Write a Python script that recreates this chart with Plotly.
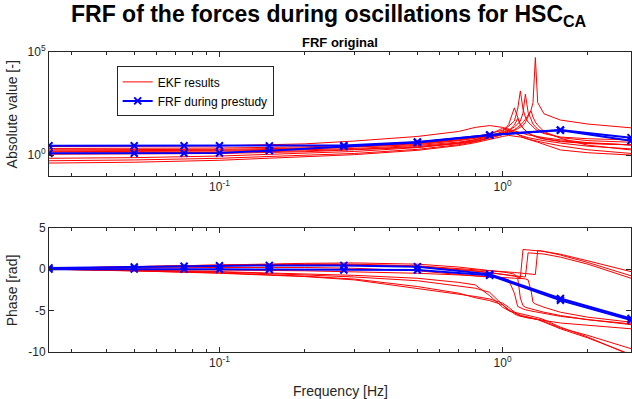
import numpy as np
import plotly.graph_objects as go

# ---------------------------------------------------------------- data
# frequency grid of the EKF identification results [Hz]
freq_ekf = [0.025, 0.05, 0.1, 0.2, 0.3, 0.5, 0.7, 0.8, 0.9, 1.0, 1.05, 1.1, 1.13,
            1.155, 1.18, 1.203, 1.23, 1.26, 1.28, 1.305, 1.33, 1.4, 1.6, 2.0, 2.84]

# absolute value of the FRF for each EKF run
ekf1_abs = [2.1, 2.1, 2.2, 2.5, 2.9, 3.8, 5.5, 6.8, 8.5, 11, 13, 16, 19, 22, 27, 38, 70, 150, 350, 54000, 350, 100, 50, 32, 21]
ekf2_abs = [1.8, 1.8, 1.9, 2.2, 2.6, 3.5, 5.5, 7.5, 11, 16, 25, 45, 170, 1300, 170, 70, 40, 28, 22, 18, 15, 11, 7.5, 6.2, 5.4]
ekf3_abs = [1.6, 1.6, 1.7, 2.0, 2.4, 3.2, 5.0, 6.5, 9.0, 12, 16, 23, 32, 45, 110, 900, 120, 50, 32, 24, 18, 12, 7.0, 5.0, 4.2]
ekf4_abs = [1.46, 1.47, 1.55, 1.8, 2.1, 2.9, 4.3, 5.6, 8.0, 14, 30, 195, 60, 30, 20, 15, 12, 9.5, 8.5, 7.5, 7.0, 6.0, 4.5, 3.6, 3.1]
ekf5_abs = [1.25, 1.27, 1.35, 1.6, 1.9, 2.6, 3.9, 5.0, 7.0, 10, 13, 17, 22, 28, 38, 55, 85, 140, 70, 40, 28, 14, 6.5, 3.0, 1.77]
ekf6_abs = [2.6, 2.6, 2.8, 3.5, 4.8, 8.0, 14, 22, 27, 22, 18, 14, 12.5, 11.5, 10.5, 10, 9.5, 9.0, 8.6, 8.3, 8.0, 7.0, 5.5, 4.0, 3.1]
ekf7_abs = [0.70, 0.75, 0.9, 1.2, 1.5, 2.3, 3.8, 5.5, 10, 20, 16, 12, 10, 9.0, 8.0, 7.5, 7.0, 6.5, 6.2, 6.0, 5.8, 5.0, 3.8, 2.7, 2.0]
ekf8_abs = [0.53, 0.58, 0.7, 0.95, 1.2, 1.9, 3.2, 4.5, 7.0, 13, 18, 13, 10, 8.5, 7.5, 6.5, 6.0, 5.5, 5.2, 5.0, 4.8, 4.0, 2.8, 1.8, 1.2]
ekf9_abs = [0.41, 0.45, 0.56, 0.8, 1.05, 1.7, 2.9, 4.0, 6.0, 8.0, 9.0, 8.5, 8.0, 7.5, 7.0, 6.5, 6.0, 5.5, 5.0, 4.6, 4.2, 3.3, 1.77, 1.3, 1.0]
ekf10_abs = [1.1, 1.12, 1.2, 1.45, 1.75, 2.4, 3.6, 4.6, 6.5, 10, 15, 28, 60, 30, 20, 15, 12, 10, 9.0, 8.2, 7.5, 6.2, 4.8, 3.8, 3.1]

# phase of the FRF for each EKF run [rad]
ekf1_phase = [0.1, 0.3, 0.5, 0.6, 0.6, 0.4, 0.1, -0.05, -0.2, -0.3, -0.35, -0.4, -0.45, -0.5, -0.52, -0.55, -0.58, -0.6, -0.63, -0.65, 2.25, 2.15, 1.8, 1.0, -0.3]
ekf2_phase = [0.0, 0.2, 0.4, 0.5, 0.5, 0.3, 0.0, -0.2, -0.4, -0.6, -0.7, -0.85, -0.95, -1.05, 2.37, 2.35, 2.32, 2.3, 2.28, 2.26, 2.24, 2.15, 1.7, 0.8, -0.8]
ekf3_phase = [0.05, 0.25, 0.45, 0.55, 0.5, 0.3, -0.05, -0.25, -0.45, -0.6, -0.7, -0.75, -0.8, -0.85, -0.9, -0.95, 1.97, 1.95, 1.93, 1.92, 1.9, 1.82, 1.45, 0.6, -1.1]
ekf4_phase = [0.05, 0.15, 0.2, 0.2, 0.1, -0.2, -0.6, -0.8, -0.95, -1.1, -1.3, -2.9, -4.5, -4.7, -4.8, -4.9, -5.0, -5.05, -5.1, -5.15, -5.2, -5.35, -5.7, -6.1, -6.6]
ekf5_phase = [-0.05, -0.05, -0.1, -0.2, -0.3, -0.5, -0.7, -0.8, -0.9, -0.95, -1.0, -1.05, -1.1, -1.12, -1.15, -1.18, -1.3, -2.6, -4.0, -4.2, -4.3, -4.6, -5.2, -5.8, -6.4]
ekf6_phase = [0.0, -0.1, -0.3, -0.55, -0.75, -1.1, -1.6, -1.9, -3.2, -4.6, -5.0, -5.2, -5.3, -5.4, -5.5, -5.55, -5.6, -5.7, -5.75, -5.8, -5.85, -6.1, -7.0, -8.2, -10.4]
ekf7_phase = [0.0, -0.15, -0.35, -0.7, -0.95, -1.4, -2.0, -2.3, -2.8, -4.3, -5.0, -5.3, -5.45, -5.55, -5.65, -5.7, -5.8, -5.9, -5.95, -6.0, -6.05, -6.3, -7.1, -8.0, -9.6]
ekf8_phase = [0.0, -0.2, -0.5, -0.9, -1.3, -2.3, -3.0, -3.3, -3.6, -4.1, -4.6, -5.2, -5.5, -5.65, -5.75, -5.8, -5.85, -5.9, -5.95, -6.0, -6.05, -6.2, -6.5, -6.8, -7.2]
ekf9_phase = [0.0, -0.2, -0.45, -0.85, -1.2, -2.1, -2.9, -3.45, -3.8, -4.3, -4.9, -5.4, -5.6, -5.7, -5.8, -5.85, -5.9, -5.95, -6.0, -6.05, -6.1, -6.4, -7.2, -8.3, -10.3]
ekf10_phase = [0.1, 0.3, 0.55, 0.7, 0.75, 0.6, 0.25, 0.05, -0.15, -0.35, -0.45, -0.6, -1.0, -3.5, -4.4, -4.6, -4.7, -4.8, -4.9, -4.95, -5.0, -5.2, -5.6, -6.1, -6.7]

# FRF obtained in the prestudy
freq_pre = [0.025, 0.05, 0.075, 0.1, 0.15, 0.275, 0.5, 0.9, 1.6, 2.84]
pre1_abs = [2.86, 2.86, 2.86, 2.86, 2.8, 2.9, 4.3, 9.5, 16.6, 7.0]
pre2_abs = [1.22, 1.22, 1.22, 1.25, 1.64, 2.6, 4.1, 9.3, 16.0, 5.0]
pre1_phase = [0.15, 0.25, 0.35, 0.4, 0.45, 0.45, 0.3, -0.6, -3.55, -5.95]
pre2_phase = [0.0, 0.02, 0.0, -0.02, -0.05, -0.1, -0.1, -0.75, -3.75, -6.15]

# axis ticks
x_ticks = [0.1, 1]
x_ticktext = ["10<sup>-1</sup>", "10<sup>0</sup>"]
x_minor = [0.03, 0.04, 0.05, 0.06, 0.07, 0.08, 0.09,
           0.2, 0.3, 0.4, 0.5, 0.6, 0.7, 0.8, 0.9, 2]
abs_ticks = [1, 1e5]
abs_ticktext = ["10<sup>0</sup>", "10<sup>5</sup>"]
phase_ticks = [-10, -5, 0, 5]
phase_ticktext = ["-10", "-5", "0", "5"]

# ---------------------------------------------------------------- figure
ekf_abs = [ekf1_abs, ekf2_abs, ekf3_abs, ekf4_abs, ekf5_abs,
           ekf6_abs, ekf7_abs, ekf8_abs, ekf9_abs, ekf10_abs]
ekf_phase = [ekf1_phase, ekf2_phase, ekf3_phase, ekf4_phase, ekf5_phase,
             ekf6_phase, ekf7_phase, ekf8_phase, ekf9_phase, ekf10_phase]
pre_abs = [pre1_abs, pre2_abs]
pre_phase = [pre1_phase, pre2_phase]

FONT = "Liberation Sans, Arial, Helvetica, sans-serif"
AXC = "#262626"
RED = "#ff0000"
BLUE = "#0000ff"

fig = go.Figure()

for i, (a, p) in enumerate(zip(ekf_abs, ekf_phase)):
    fig.add_trace(go.Scatter(x=freq_ekf, y=a, mode="lines", xaxis="x", yaxis="y",
                             line=dict(color=RED, width=1), name="EKF results",
                             legendgroup="ekf", showlegend=(i == 0)))
    fig.add_trace(go.Scatter(x=freq_ekf, y=p, mode="lines", xaxis="x2", yaxis="y2",
                             line=dict(color=RED, width=1), legendgroup="ekf",
                             showlegend=False))

marker = dict(symbol="x-thin", size=7, color=BLUE, line=dict(color=BLUE, width=2))
for i, (a, p) in enumerate(zip(pre_abs, pre_phase)):
    fig.add_trace(go.Scatter(x=freq_pre, y=a, mode="lines+markers", xaxis="x", yaxis="y",
                             line=dict(color=BLUE, width=2), marker=marker,
                             name="FRF during prestudy", legendgroup="pre",
                             showlegend=(i == 0)))
    fig.add_trace(go.Scatter(x=freq_pre, y=p, mode="lines+markers", xaxis="x2", yaxis="y2",
                             line=dict(color=BLUE, width=2), marker=marker,
                             legendgroup="pre", showlegend=False))

tickfont = dict(family=FONT, size=12, color=AXC)
xr = [np.log10(0.025), np.log10(2.84)]
xcommon = dict(type="log", range=xr, showline=True, linecolor=AXC, linewidth=1,
               mirror="allticks", ticks="inside", ticklen=5, tickwidth=1, tickcolor=AXC,
               tickmode="array", tickvals=x_ticks, ticktext=x_ticktext, tickfont=tickfont,
               showgrid=False, zeroline=False,
               minor=dict(tickmode="array", tickvals=x_minor, ticks="inside",
                          ticklen=3, tickwidth=1, tickcolor=AXC, showgrid=False))
ycommon = dict(showline=True, linecolor=AXC, linewidth=1, mirror="allticks",
               ticks="inside", ticklen=5, tickwidth=1, tickcolor=AXC, tickfont=tickfont,
               showgrid=False, zeroline=False, tickmode="array")

fig.update_layout(
    width=632, height=399,
    margin=dict(l=49, r=1, t=52, b=47),
    paper_bgcolor="white", plot_bgcolor="white",
    font=dict(family=FONT, size=12, color=AXC),
    xaxis=dict(xcommon, anchor="y", domain=[0, 1]),
    yaxis=dict(ycommon, type="log", range=[-1, 5], tickvals=abs_ticks,
               ticktext=abs_ticktext, domain=[0.5877, 1], anchor="x"),
    xaxis2=dict(xcommon, anchor="y2", domain=[0, 1]),
    yaxis2=dict(ycommon, range=[-10, 5], tickvals=phase_ticks,
                ticktext=phase_ticktext, domain=[0, 0.4143], anchor="x2"),
    title=dict(text="<b>FRF of the forces during oscillations for HSC<sub>CA</sub></b>",
               x=0.52, xanchor="center", y=0.985, yanchor="top", yref="container",
               font=dict(family=FONT, size=23, color="black")),
    legend=dict(x=0.1163, y=0.952, xanchor="left", yanchor="top",
                bgcolor="white", bordercolor=AXC, borderwidth=1,
                font=dict(family=FONT, size=12, color="black"),
                tracegroupgap=0, itemwidth=30),
    showlegend=True,
)

annots = [
    dict(text="<b>FRF original</b>", x=0.5, y=1.033, xref="paper", yref="paper",
         xanchor="center", yanchor="middle", showarrow=False,
         font=dict(family=FONT, size=13, color="black")),
    dict(text="Absolute value [-]", x=-0.0631, y=0.793, xref="paper", yref="paper",
         xanchor="center", yanchor="middle", textangle=-90, showarrow=False,
         font=dict(family=FONT, size=14, color=AXC)),
    dict(text="Phase [rad]", x=-0.0631, y=0.2067, xref="paper", yref="paper",
         xanchor="center", yanchor="middle", textangle=-90, showarrow=False,
         font=dict(family=FONT, size=14, color=AXC)),
    dict(text="Frequency [Hz]", x=0.5, y=-0.13, xref="paper", yref="paper",
         xanchor="center", yanchor="middle", showarrow=False,
         font=dict(family=FONT, size=14, color=AXC)),
]
fig.update_layout(annotations=annots)

fig.write_html("out.html")
